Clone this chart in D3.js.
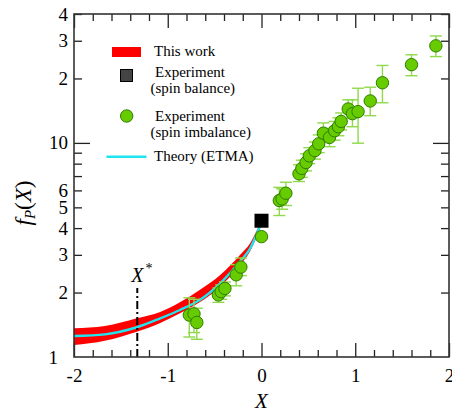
<!DOCTYPE html>
<html>
<head>
<meta charset="utf-8">
<script src="https://cdn.jsdelivr.net/npm/d3@7"></script>
<style>
  html, body { margin: 0; padding: 0; background: #fff; }
  svg { display: block; }
  text { font-family: "Liberation Serif", "DejaVu Serif", serif; fill: #000; }
</style>
</head>
<body>
<script>
// ---- data ----
// "This work": band of f_P(X) (lower / upper edge)
const bandX     = [-2, -1.67, -1.33, -1.08, -0.87, -0.66, -0.44, -0.23, -0.12, 0];
const bandLower = [1.138, 1.192, 1.313, 1.442, 1.600, 1.801, 2.131, 2.69, 3.13, 4.14];
const bandUpper = [1.362, 1.396, 1.516, 1.623, 1.801, 2.057, 2.416, 2.997, 3.41, 4.37];

// Theory (ETMA)
const theoryX = [-2, -1.67, -1.33, -1.08, -0.87, -0.66, -0.44, -0.23, -0.12, 0];
const theoryF = [1.253, 1.276, 1.377, 1.516, 1.658, 1.846, 2.21, 2.79, 3.22, 4.27];

// Experiment (spin balance)
const balanceX = [0];
const balanceF = [4.33];

// Experiment (spin imbalance) with error bars
const imbX  = [-0.77, -0.72, -0.69, -0.46, -0.43, -0.39, -0.27, -0.22, 0.00,
               0.19, 0.22, 0.26, 0.40, 0.43, 0.475, 0.51, 0.57, 0.61, 0.66, 0.725,
               0.78, 0.82, 0.85, 0.925, 0.97, 1.03, 1.16, 1.29, 1.60, 1.86];
const imbF  = [1.57, 1.59, 1.45, 1.95, 2.02, 2.09, 2.42, 2.63, 3.65,
               5.38, 5.47, 5.82, 7.17, 7.6, 8.1, 8.7, 9.2, 9.9, 11.1, 10.6,
               11.4, 11.9, 12.6, 14.4, 13.7, 14.0, 15.7, 19.1, 23.2, 28.4];
const imbLo = [1.24, 1.30, 1.21, 1.80, 1.86, 1.93, 2.15, 2.40, 3.65,
               4.58, 4.9, 5.1, 6.6, 6.9, 7.4, 8.0, 8.4, 9.0, 10.1, 9.6,
               10.3, 10.8, 11.5, 13.0, 11.9, 9.97, 13.4, 15.4, 20.6, 25.3];
const imbHi = [1.89, 1.86, 1.69, 2.10, 2.17, 2.24, 2.70, 2.90, 3.65,
               6.2, 6.1, 6.55, 7.9, 8.3, 8.9, 9.5, 10.1, 10.9, 12.4, 11.7,
               12.6, 13.1, 13.8, 15.9, 15.9, 18.0, 18.2, 23.0, 25.8, 31.6];

// critical point X*
const xStar = [-1.325];
const xStarTop = [2.1];

// axis ticks
const xMajor = [-2, -1, 0, 1, 2];
const xMinor = [-1.8, -1.6, -1.4, -1.2, -0.8, -0.6, -0.4, -0.2,
                0.2, 0.4, 0.6, 0.8, 1.2, 1.4, 1.6, 1.8];
const yLabeled = [2, 3, 4, 5, 6, 20, 30, 40];
const yLabels  = ["2", "3", "4", "5", "6", "2", "3", "4"];
const yMinor   = [7, 8, 9];
const yDecade  = [10];

// ---- layout ----
const W = 452, H = 416;
const L = 74, R = 449, T = 14, B = 357;

const svg = d3.select("body").append("svg").attr("width", W).attr("height", H);

const x = d3.scaleLinear().domain([-2, 2]).range([L, R]);
const y = d3.scaleLog().domain([1, 40]).range([B, T]);

// ---- band ----
const bandData = bandX.map((v, i) => ({ x: v, lo: bandLower[i], hi: bandUpper[i] }));
svg.append("path")
  .datum(bandData)
  .attr("fill", "#ff0000")
  .attr("d", d3.area().curve(d3.curveMonotoneX)
    .x(d => x(d.x)).y0(d => y(d.lo)).y1(d => y(d.hi)));

// ---- theory line ----
const theoryData = theoryX.map((v, i) => ({ x: v, f: theoryF[i] }));
svg.append("path")
  .datum(theoryData)
  .attr("fill", "none")
  .attr("stroke", "#1ee6f0")
  .attr("stroke-width", 2.4)
  .attr("d", d3.line().curve(d3.curveMonotoneX).x(d => x(d.x)).y(d => y(d.f)));

// ---- X* marker ----
svg.selectAll("line.xstar").data(xStar).join("line")
  .attr("class", "xstar")
  .attr("x1", d => x(d)).attr("x2", d => x(d))
  .attr("y1", y(1)).attr("y2", (d, i) => y(xStarTop[i]))
  .attr("stroke", "#000").attr("stroke-width", 2)
  .attr("stroke-dasharray", "8,3,2,3");

const xs = svg.append("text")
  .attr("x", x(xStar[0]) - 6).attr("y", 282)
  .style("font-size", "20px");
xs.append("tspan").style("font-style", "italic").text("X");
xs.append("tspan").attr("dx", 2).attr("dy", -9).style("font-size", "14px").text("*");

// ---- spin imbalance points ----
const imb = imbX.map((v, i) => ({ x: v, f: imbF[i], lo: imbLo[i], hi: imbHi[i] }));
const eb = svg.append("g").attr("stroke", "#8fd94a").attr("stroke-width", 1.4);
imb.filter(d => d.hi > d.lo).forEach(d => {
  const cx = x(d.x);
  eb.append("line").attr("x1", cx).attr("x2", cx).attr("y1", y(d.lo)).attr("y2", y(d.hi));
  eb.append("line").attr("x1", cx - 6).attr("x2", cx + 6).attr("y1", y(d.lo)).attr("y2", y(d.lo));
  eb.append("line").attr("x1", cx - 6).attr("x2", cx + 6).attr("y1", y(d.hi)).attr("y2", y(d.hi));
});

// ---- spin balance point ----
svg.selectAll("rect.bal").data(balanceX).join("rect")
  .attr("class", "bal")
  .attr("x", d => x(d) - 7).attr("y", (d, i) => y(balanceF[i]) - 7)
  .attr("width", 14).attr("height", 14)
  .attr("fill", "#000");

svg.append("g").selectAll("circle").data(imb).join("circle")
  .attr("cx", d => x(d.x)).attr("cy", d => y(d.f)).attr("r", 6.2)
  .attr("fill", "#66cc00").attr("stroke", "#2f7d00").attr("stroke-width", 1);

// ---- axes ----
function styleAxis(g) {
  g.select(".domain").remove();
  g.selectAll(".tick line").attr("stroke", "#222").attr("stroke-width", 1.3);
  g.selectAll(".tick text").style("font-family", '"Liberation Serif", serif').style("font-size", "19px").attr("fill", "#000");
}

// bottom
svg.append("g").attr("transform", `translate(0,${B})`)
  .call(d3.axisBottom(x).tickValues(xMajor).tickSizeInner(-14).tickSizeOuter(0).tickPadding(12).tickFormat(d => String(d)))
  .call(styleAxis);
svg.append("g").attr("transform", `translate(0,${B})`)
  .call(d3.axisBottom(x).tickValues(xMinor).tickSizeInner(-7).tickSizeOuter(0).tickFormat(""))
  .call(styleAxis);
// top
svg.append("g").attr("transform", `translate(0,${T})`)
  .call(d3.axisTop(x).tickValues(xMajor).tickSizeInner(-14).tickSizeOuter(0).tickFormat(""))
  .call(styleAxis);
svg.append("g").attr("transform", `translate(0,${T})`)
  .call(d3.axisTop(x).tickValues(xMinor).tickSizeInner(-7).tickSizeOuter(0).tickFormat(""))
  .call(styleAxis);
// left
svg.append("g").attr("transform", `translate(${L},0)`)
  .call(d3.axisLeft(y).tickValues(yLabeled).tickSizeInner(-8).tickSizeOuter(0).tickPadding(6)
    .tickFormat(d => yLabels[yLabeled.indexOf(d)]))
  .call(styleAxis);
svg.append("g").attr("transform", `translate(${L},0)`)
  .call(d3.axisLeft(y).tickValues(yMinor).tickSizeInner(-8).tickSizeOuter(0).tickFormat(""))
  .call(styleAxis);
svg.append("g").attr("transform", `translate(${L},0)`)
  .call(d3.axisLeft(y).tickValues(yDecade).tickSizeInner(-16).tickSizeOuter(0).tickPadding(6).tickFormat(d => String(d)))
  .call(styleAxis);
svg.append("g").attr("transform", `translate(${L},0)`)
  .call(d3.axisLeft(y).tickValues([1]).tickSize(0).tickPadding(16).tickFormat(d => String(d)))
  .call(styleAxis);
// right
svg.append("g").attr("transform", `translate(${R},0)`)
  .call(d3.axisRight(y).tickValues(yLabeled.concat(yMinor)).tickSizeInner(-8).tickSizeOuter(0).tickFormat(""))
  .call(styleAxis);
svg.append("g").attr("transform", `translate(${R},0)`)
  .call(d3.axisRight(y).tickValues(yDecade).tickSizeInner(-16).tickSizeOuter(0).tickFormat(""))
  .call(styleAxis);

// frame
svg.append("rect")
  .attr("x", L).attr("y", T).attr("width", R - L).attr("height", B - T)
  .attr("fill", "none").attr("stroke", "#333").attr("stroke-width", 1.6);

// axis titles
svg.append("text")
  .attr("x", x(0)).attr("y", 408).attr("text-anchor", "middle")
  .style("font-size", "21px").style("font-style", "italic").text("X");

const yt = svg.append("text")
  .attr("transform", "translate(31,203) rotate(-90)")
  .attr("text-anchor", "middle")
  .style("font-size", "23px");
yt.append("tspan").style("font-style", "italic").text("f");
yt.append("tspan").style("font-style", "italic").style("font-size", "15px").attr("dy", 4).text("P");
yt.append("tspan").attr("dy", -4).text("(");
yt.append("tspan").style("font-style", "italic").text("X");
yt.append("tspan").text(")");

// ---- legend ----
const lg = svg.append("g").style("font-size", "15px");
lg.append("rect").attr("x", 112).attr("y", 47).attr("width", 29).attr("height", 10).attr("fill", "#ff0000");
lg.append("text").attr("x", 154).attr("y", 56).text("This work");

lg.append("rect").attr("x", 120.5).attr("y", 69.5).attr("width", 12).attr("height", 12)
  .attr("fill", "#444").attr("stroke", "#000").attr("stroke-width", 1);
lg.append("text").attr("x", 155).attr("y", 77).text("Experiment");
lg.append("text").attr("x", 150.5).attr("y", 93).text("(spin balance)");

lg.append("circle").attr("cx", 126.7).attr("cy", 116).attr("r", 6.2)
  .attr("fill", "#66cc00").attr("stroke", "#2f7d00").attr("stroke-width", 1);
lg.append("text").attr("x", 155).attr("y", 120.5).text("Experiment");
lg.append("text").attr("x", 150.5).attr("y", 136.5).text("(spin imbalance)");

lg.append("line").attr("x1", 106.5).attr("x2", 146.5).attr("y1", 156.7).attr("y2", 156.7)
  .attr("stroke", "#1ee6f0").attr("stroke-width", 2.4);
lg.append("text").attr("x", 154).attr("y", 160.5).text("Theory (ETMA)");
</script>
</body>
</html>
